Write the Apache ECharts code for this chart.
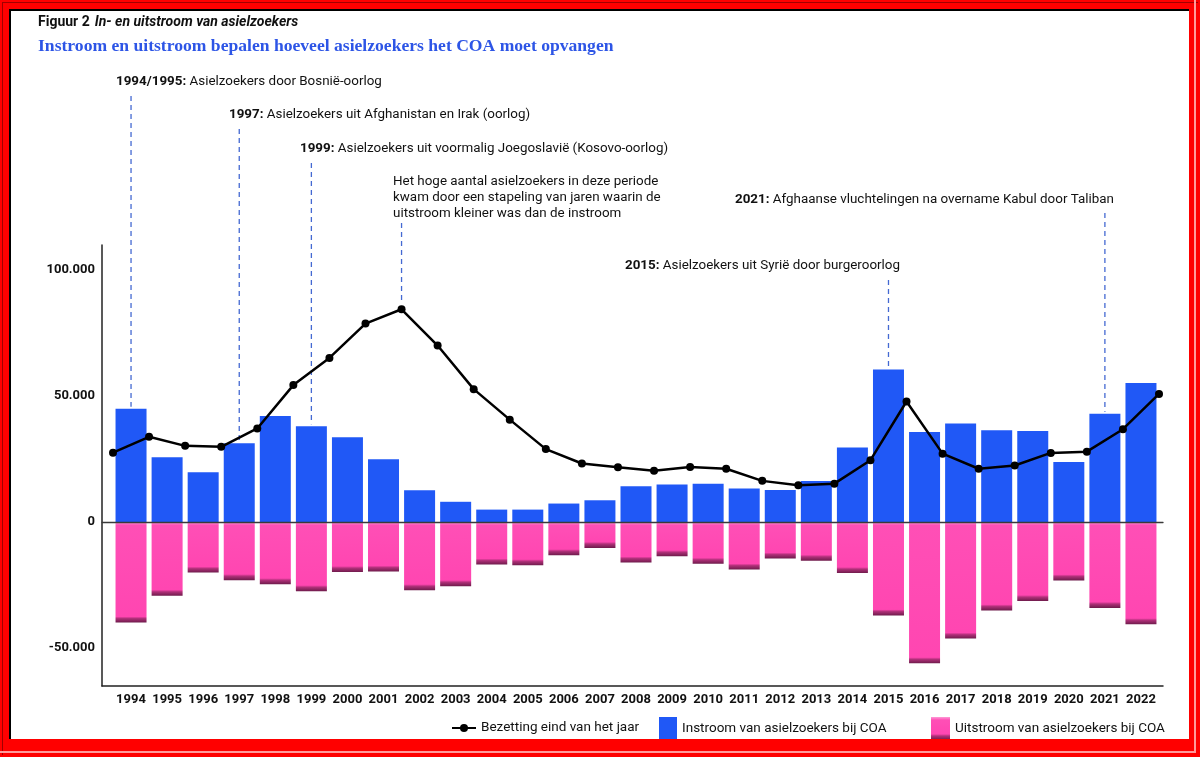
<!DOCTYPE html>
<html>
<head>
<meta charset="utf-8">
<script src="https://cdn.jsdelivr.net/npm/echarts@6/dist/echarts.min.js"></script>
<style>
  html, body { margin: 0; padding: 0; background: #fff; }
  #wrap { position: relative; width: 1200px; height: 757px; overflow: hidden; }
  #chart { position: absolute; left: 0; top: 0; width: 1200px; height: 757px; }
  #frame { position: absolute; left: 0; top: 0; width: 1200px; height: 757px; box-sizing: border-box;
    border-style: solid; border-width: 9px 11px 18px 9px; border-color: #ff0000;
    box-shadow: inset 2px 2px 0 #000; pointer-events: none; }
  #frame2 { position: absolute; left: 2px; top: 2px; width: 1196px; height: 753px; box-sizing: border-box;
    border-style: solid; border-width: 1px 0 0 1px; border-color: #a00000; pointer-events: none; }
  #frame3 { position: absolute; left: 0; top: 0; width: 1196px; height: 753px; box-sizing: border-box;
    border-style: solid; border-width: 0 2px 2px 0; border-color: #ff9a9a; pointer-events: none; }
</style>
</head>
<body>
<div id="wrap">
  <div id="chart"></div>
  <div id="frame"></div>
  <div id="frame2"></div>
  <div id="frame3"></div>
</div>
<script>
// ---------------- data ----------------
const years = ['1994','1995','1996','1997','1998','1999','2000','2001','2002','2003','2004','2005','2006','2007','2008','2009','2010','2011','2012','2013','2014','2015','2016','2017','2018','2019','2020','2021','2022'];
// occupancy at end of year, points sit on year boundaries (end of 1993 .. end of 2022)
const occYears = ['1993','1994','1995','1996','1997','1998','1999','2000','2001','2002','2003','2004','2005','2006','2007','2008','2009','2010','2011','2012','2013','2014','2015','2016','2017','2018','2019','2020','2021','2022'];
const inflow = [45000, 25800, 19800, 31300, 42100, 38100, 33700, 25000, 12700, 8100, 5000, 5000, 7400, 8700, 14300, 15000, 15300, 13400, 12800, 16300, 29600, 60600, 35800, 39200, 36500, 36200, 23900, 43000, 55200];
const outflow = [-39800, -29200, -20000, -23000, -24600, -27400, -19800, -19600, -27000, -25400, -16800, -17100, -13100, -10200, -16000, -13500, -16500, -18800, -14400, -15300, -20200, -37000, -56000, -46200, -35000, -31300, -23100, -34000, -40500];
const occupancy = [27600, 33900, 30300, 29900, 37200, 54400, 65200, 78800, 84500, 70100, 52800, 40700, 29000, 23300, 21800, 20400, 21900, 21200, 16400, 14700, 15300, 24600, 47900, 27200, 21200, 22500, 27500, 28000, 36900, 50900];
const yTickLabels = [-50000, 0, 50000, 100000];
const seriesNames = ['Bezetting eind van het jaar', 'Instroom van asielzoekers bij COA', 'Uitstroom van asielzoekers bij COA'];
const titleText = 'Instroom en uitstroom bepalen hoeveel asielzoekers het COA moet opvangen';
const figBold = 'Figuur 2';
const figItalic = 'In- en uitstroom van asielzoekers';
const annotations = [
  { bold: '1994/1995:', text: ' Asielzoekers door Bosnië-oorlog', target: 'bar', year: '1994' },
  { bold: '1997:', text: ' Asielzoekers uit Afghanistan en Irak (oorlog)', target: 'bar', year: '1997' },
  { bold: '1999:', text: ' Asielzoekers uit voormalig Joegoslavië (Kosovo-oorlog)', target: 'bar', year: '1999' },
  { bold: '', text: 'Het hoge aantal asielzoekers in deze periode\nkwam door een stapeling van jaren waarin de\nuitstroom kleiner was dan de instroom', target: 'line', year: '2001' },
  { bold: '2015:', text: ' Asielzoekers uit Syrië door burgeroorlog', target: 'bar', year: '2015' },
  { bold: '2021:', text: ' Afghaanse vluchtelingen na overname Kabul door Taliban', target: 'bar', year: '2021' }
];
// ---------------- layout (positions only) ----------------
const annotLayout = [
  { x: 116, y: 74, lineTop: 96, gap: 2 },
  { x: 229, y: 107, lineTop: 129, gap: 2 },
  { x: 300, y: 141, lineTop: 163, gap: 2 },
  { x: 393, y: 174, lineTop: 223, gap: 6 },
  { x: 625, y: 258, lineTop: 280, gap: 2 },
  { x: 735, y: 192, lineTop: 213, gap: 2 }
];

const FONT = 'Roboto, "Liberation Sans", sans-serif';
const BLUE = '#2058f6';
function pinkGradient(h) {
  // h: bar height in px -> fixed-size light top edge and dark bottom edge
  const a = Math.min(0.3, 3 / h), b = Math.max(0.5, 1 - 6 / h), c = Math.max(0.6, 1 - 4 / h);
  return new echarts.graphic.LinearGradient(0, 0, 0, 1, [
    { offset: 0, color: '#ff9ad6' },
    { offset: a, color: '#ff4fb6' },
    { offset: b, color: '#ff46b1' },
    { offset: c, color: '#b03079' },
    { offset: 1, color: '#6e1b4b' }
  ]);
}

function fmt(v) {
  if (!yTickLabels.includes(v)) return '';
  const s = Math.abs(v).toString().replace(/\B(?=(\d{3})+(?!\d))/g, '.');
  return (v < 0 ? '-' : '') + s;
}

const chart = echarts.init(document.getElementById('chart'), null, { renderer: 'canvas' });
const TOP = 245, BOTTOM = 71;
const legendText = { fontFamily: FONT, fontSize: 13.5, color: '#111' };
chart.setOption({
  animation: false,
  backgroundColor: '#fff',
  title: [
    { left: 38, top: 13, padding: 0,
      text: '{b|' + figBold + '} {i|' + figItalic + '}',
      textStyle: { rich: {
        b: { fontFamily: FONT, fontWeight: 'bold', fontSize: 14, color: '#111' },
        i: { fontFamily: FONT, fontStyle: 'italic', fontSize: 14, color: '#111' } } } },
    { left: 38, top: 37, padding: 0, text: titleText,
      textStyle: { fontFamily: '"Liberation Serif", serif', fontWeight: 'bold', fontSize: 17.6, color: '#2d55e6' } }
  ],
  legend: [
    { data: [seriesNames[0]], left: 451, top: 721, itemWidth: 24, itemHeight: 10, itemGap: 0, padding: 0,
      textStyle: legendText },
    { data: [{ name: seriesNames[1], icon: 'rect' }], left: 659, top: 717, itemWidth: 18, itemHeight: 23, itemGap: 0, padding: 0,
      textStyle: legendText },
    { data: [{ name: seriesNames[2], icon: 'rect' }], left: 931, top: 717, itemWidth: 19, itemHeight: 23, itemGap: 0, padding: 0,
      textStyle: legendText }
  ],
  grid: [
    { left: 102, right: 37, top: TOP, bottom: BOTTOM },
    { left: 113, right: 41, top: TOP, bottom: BOTTOM }
  ],
  xAxis: [
    { gridIndex: 0, type: 'value', min: 0, max: 1, z: 5,
      axisLine: { show: true, onZero: true, lineStyle: { color: '#3a3a3a', width: 1.3 } },
      axisTick: { show: false }, axisLabel: { show: false }, splitLine: { show: false } },
    { gridIndex: 0, type: 'value', min: 0, max: 1, position: 'bottom',
      axisLine: { show: true, onZero: false, lineStyle: { color: '#222', width: 1.5 } },
      axisTick: { show: false }, axisLabel: { show: false }, splitLine: { show: false } },
    { gridIndex: 1, type: 'category', data: years, position: 'bottom', boundaryGap: true,
      axisLine: { show: false, onZero: false }, axisTick: { show: false },
      axisLabel: { fontFamily: FONT, fontWeight: 'bold', fontSize: 13, color: '#111', margin: 7, interval: 0 } },
    { gridIndex: 1, type: 'category', data: occYears, boundaryGap: false, show: false }
  ],
  yAxis: [
    { gridIndex: 0, type: 'value', min: -65000, max: 110000, interval: 5000,
      axisLine: { show: true, lineStyle: { color: '#222', width: 1.5 } },
      axisTick: { show: false }, splitLine: { show: false },
      axisLabel: { formatter: fmt, fontFamily: FONT, fontWeight: 'bold', fontSize: 13, color: '#111', margin: 7 } },
    { gridIndex: 1, type: 'value', min: -65000, max: 110000, interval: 5000, show: false, splitLine: { show: false } }
  ],
  series: [
    { name: seriesNames[1], type: 'bar', xAxisIndex: 2, yAxisIndex: 1, stack: 'flow', data: inflow,
      barWidth: 31, itemStyle: { color: BLUE } },
    { name: seriesNames[2], type: 'bar', xAxisIndex: 2, yAxisIndex: 1, stack: 'flow', data: outflow,
      barWidth: 31, itemStyle: { color: pinkGradient(23), shadowBlur: 6, shadowColor: 'rgba(0,0,0,0.28)', shadowOffsetY: 1 } },
    { name: seriesNames[0], type: 'line', xAxisIndex: 3, yAxisIndex: 1, data: occupancy, z: 4,
      symbol: 'circle', symbolSize: 8, showSymbol: true,
      lineStyle: { color: '#000', width: 2.5 }, itemStyle: { color: '#000' } }
  ]
});

// per-bar gradient with fixed-pixel edge bands, height taken from the library's scale
const pinkData = outflow.map((v, i) => {
  const y0 = chart.convertToPixel({ seriesIndex: 1 }, [i, 0])[1];
  const y1 = chart.convertToPixel({ seriesIndex: 1 }, [i, v])[1];
  return { value: v, itemStyle: { color: pinkGradient(Math.abs(y1 - y0)) } };
});

// annotations: dashed leader lines anchored to data through the library's scales
const els = [];
annotations.forEach((a, i) => {
  const L = annotLayout[i];
  let p;
  if (a.target === 'bar') {
    const idx = years.indexOf(a.year);
    p = chart.convertToPixel({ seriesIndex: 0 }, [idx, inflow[idx]]);
  } else {
    const idx = occYears.indexOf(a.year);
    p = chart.convertToPixel({ seriesIndex: 2 }, [idx, occupancy[idx]]);
  }
  els.push({ type: 'line', silent: true, z: 1,
    shape: { x1: p[0], y1: L.lineTop, x2: p[0], y2: p[1] - L.gap },
    style: { stroke: '#4469d2', lineWidth: 1.3, lineDash: [5, 4] } });
  els.push({ type: 'text', silent: true, x: L.x, y: L.y,
    style: { text: a.bold ? '{b|' + a.bold + '}{n|' + a.text + '}' : '{n|' + a.text.split('\n').join('}\n{n|') + '}',
      verticalAlign: 'top', align: 'left',
      rich: { b: { fontFamily: FONT, fontWeight: 'bold', fontSize: 13.4, fill: '#111', color: '#111', lineHeight: 16 },
              n: { fontFamily: FONT, fontSize: 13.4, fill: '#111', color: '#111', lineHeight: 16 } } } });
});
chart.setOption({ graphic: els, series: [{}, { data: pinkData }, {}] });
</script>
</body>
</html>
